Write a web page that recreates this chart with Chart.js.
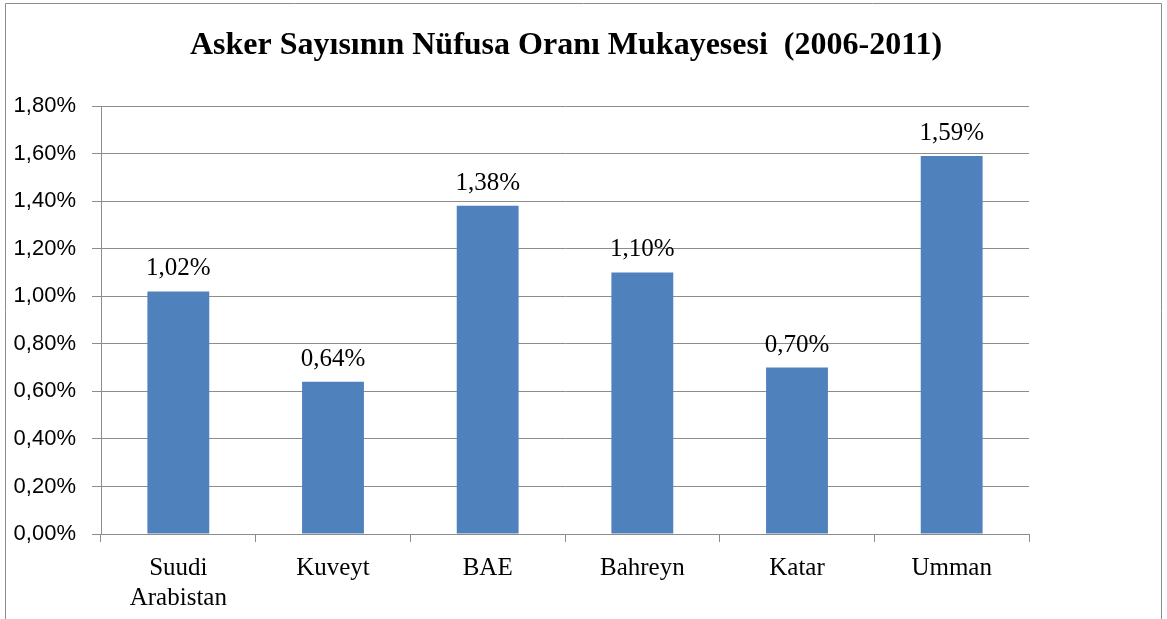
<!DOCTYPE html>
<html><head><meta charset="utf-8">
<script src="https://cdn.jsdelivr.net/npm/chart.js@4.4.1/dist/chart.umd.min.js"></script>
<style>html,body{margin:0;padding:0;background:#fff;}#wrap{position:relative;width:1167px;height:619px;}</style>
</head><body><div id="wrap"><canvas id="c" width="1167" height="619"></canvas></div>
<script>
const titleText = "Asker Sayısının Nüfusa Oranı Mukayesesi  (2006-2011)";
const categories = [["Suudi","Arabistan"],"Kuveyt","BAE","Bahreyn","Katar","Umman"];
const values = [1.02, 0.64, 1.38, 1.10, 0.70, 1.59];
const yMin = 0, yMax = 1.8, yStep = 0.2;
const fmt = v => v.toFixed(2).replace('.', ',') + '%';

const frame = {
  id: 'frame',
  beforeDraw(chart) {
    const ctx = chart.ctx;
    ctx.save();
    ctx.fillStyle = '#fff';
    ctx.fillRect(0, 0, chart.width, chart.height);
    ctx.strokeStyle = '#8c8c8c';
    ctx.lineWidth = 1;
    ctx.beginPath();
    ctx.moveTo(5.5, 640); ctx.lineTo(5.5, 3.5); ctx.lineTo(1161.5, 3.5); ctx.lineTo(1161.5, 640);
    ctx.stroke();
    ctx.fillStyle = '#000';
    ctx.font = 'bold 32px "Liberation Serif", "Times New Roman", serif';
    ctx.textAlign = 'center';
    ctx.textBaseline = 'alphabetic';
    ctx.fillText(titleText, 566, 54);
    ctx.restore();
  },
  afterDatasetsDraw(chart) {
    const ctx = chart.ctx;
    const meta = chart.getDatasetMeta(0);
    ctx.save();
    ctx.fillStyle = '#000';
    ctx.font = '25px "Liberation Serif", "Times New Roman", serif';
    ctx.textAlign = 'center';
    ctx.textBaseline = 'alphabetic';
    meta.data.forEach((bar, i) => {
      ctx.fillText(fmt(values[i]), bar.x, bar.y - 16);
    });
    ctx.restore();
  }
};

new Chart(document.getElementById('c'), {
  type: 'bar',
  data: {
    labels: categories,
    datasets: [{
      data: values,
      backgroundColor: '#4f81bd',
      borderWidth: 0,
      barPercentage: 0.4,
      categoryPercentage: 1.0
    }]
  },
  options: {
    responsive: false,
    animation: false,
    devicePixelRatio: 1,
    layout: { padding: { left: 0, right: 138, top: 106, bottom: 0 } },
    plugins: { legend: { display: false }, title: { display: false }, tooltip: { enabled: false } },
    scales: {
      x: {
        offset: true,
        grid: { display: true, offset: true, drawOnChartArea: false, drawTicks: true, tickLength: 8, color: '#8c8c8c' },
        border: { display: true, color: '#8c8c8c', width: 1 },
        ticks: {
          color: '#000', padding: 11, maxRotation: 0, autoSkip: false,
          font: { family: '"Liberation Serif", "Times New Roman", serif', size: 25, lineHeight: 1.22 }
        },
        afterFit(s) { s.height = 85; }
      },
      y: {
        min: yMin, max: yMax,
        grid: { color: '#8c8c8c', tickLength: 9, drawTicks: true },
        border: { display: true, color: '#8c8c8c', width: 1 },
        ticks: {
          stepSize: yStep, color: '#000', padding: 16,
          font: { family: '"Liberation Sans", Arial, sans-serif', size: 22 },
          callback: v => fmt(v)
        },
        afterFit(s) { s.width = 101; }
      }
    }
  },
  plugins: [frame]
});
</script>
</body></html>
